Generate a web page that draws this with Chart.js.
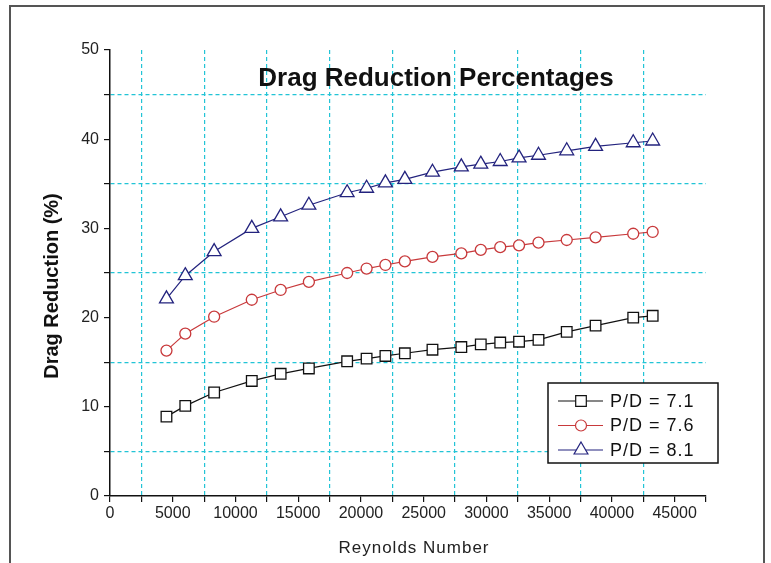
<!DOCTYPE html>
<html>
<head>
<meta charset="utf-8">
<title>Drag Reduction Percentages</title>
<script src="https://cdn.jsdelivr.net/npm/chart.js@4/dist/chart.umd.min.js"></script>
<style>
    html, body { margin: 0; padding: 0; background: #fff; }
    #wrap { position: relative; width: 771px; height: 563px; }
</style>
</head>
<body>
<div id="wrap"><canvas id="dragChart" width="771" height="563"></canvas></div>
<script>
// Reynolds numbers shared by all three pitch ratios
const reynolds = [4500, 6000, 8300, 11300, 13600, 15850, 18900, 20450, 21950, 23500,
                  25700, 28000, 29550, 31100, 32600, 34150, 36400, 38700, 41700, 43250];

// Drag reduction (%) for each P/D
const dr71 = [8.9, 10.1, 11.6, 12.9, 13.7, 14.3, 15.1, 15.4, 15.7, 16.0,
              16.4, 16.7, 17.0, 17.2, 17.3, 17.5, 18.4, 19.1, 20.0, 20.2];
const dr76 = [16.3, 18.2, 20.1, 22.0, 23.1, 24.0, 25.0, 25.5, 25.9, 26.3,
              26.8, 27.2, 27.6, 27.9, 28.1, 28.4, 28.7, 29.0, 29.4, 29.6];
const dr81 = [22.1, 24.7, 27.4, 30.0, 31.3, 32.6, 34.0, 34.5, 35.1, 35.5,
              36.3, 36.9, 37.2, 37.5, 37.9, 38.2, 38.7, 39.2, 39.6, 39.8];

const seriesLabels = ['P/D = 7.1', 'P/D = 7.6', 'P/D = 8.1'];

const FONT = "'Liberation Sans', Arial, sans-serif";
const GRID_CYAN = '#22c4d6';

class DragChart {
    constructor() {
        this.chart = null;
    }

    toPoints(values) {
        return values.map((v, i) => ({ x: reynolds[i], y: v }));
    }

    buildDatasets() {
        const styles = [
            { color: '#111111', pointStyle: 'rect', radius: 7.5 },
            { color: '#c8393b', pointStyle: 'circle', radius: 5.5 },
            { color: '#23237e', pointStyle: 'triangle', radius: 8 }
        ];
        return [dr71, dr76, dr81].map((vals, i) => ({
            label: seriesLabels[i],
            data: this.toPoints(vals),
            borderColor: styles[i].color,
            borderWidth: 1.2,
            backgroundColor: '#ffffff',
            pointStyle: styles[i].pointStyle,
            pointRadius: styles[i].radius,
            pointBorderWidth: 1.3,
            pointBorderColor: styles[i].color,
            pointBackgroundColor: '#ffffff',
            tension: 0,
            order: 2 - i
        }));
    }

    // frame, titles and boxed legend drawn on the canvas
    decorations() {
        return {
            id: 'decorations',
            beforeDraw(chart) {
                const ctx = chart.ctx;
                ctx.save();
                ctx.fillStyle = '#fff';
                ctx.fillRect(0, 0, chart.width, chart.height);
                ctx.strokeStyle = '#555';
                ctx.lineWidth = 2;
                ctx.strokeRect(10, 6, 754, 640);
                ctx.restore();
            },
            afterDraw(chart) {
                const ctx = chart.ctx;
                ctx.save();
                ctx.fillStyle = '#111';
                ctx.font = 'bold 26px ' + FONT;
                ctx.textAlign = 'center';
                ctx.textBaseline = 'middle';
                ctx.fillText('Drag Reduction Percentages', 436, 79);

                // axis titles
                ctx.font = '17px ' + FONT;
                ctx.fillStyle = '#222';
                ctx.letterSpacing = '1px';
                ctx.fillText('Reynolds Number', 414, 548);
                ctx.letterSpacing = '0px';

                ctx.save();
                ctx.translate(52, 286);
                ctx.rotate(-Math.PI / 2);
                ctx.font = 'bold 20px ' + FONT;
                ctx.fillStyle = '#111';
                ctx.fillText('Drag Reduction (%)', 0, 0);
                ctx.restore();

                // legend box
                const bx = 548, by = 383, bw = 170, bh = 80;
                ctx.fillStyle = '#fff';
                ctx.fillRect(bx, by, bw, bh);
                ctx.strokeStyle = '#111';
                ctx.lineWidth = 1.5;
                ctx.strokeRect(bx, by, bw, bh);

                ctx.font = '18px ' + FONT;
                ctx.textAlign = 'left';
                ctx.letterSpacing = '1px';
                chart.data.datasets.forEach((ds, i) => {
                    const y = by + 18 + i * 24.5;
                    ctx.strokeStyle = ds.borderColor;
                    ctx.lineWidth = 1.2;
                    ctx.beginPath();
                    ctx.moveTo(bx + 10, y);
                    ctx.lineTo(bx + 55, y);
                    ctx.stroke();
                    ctx.fillStyle = '#fff';
                    Chart.helpers.drawPoint(ctx, {
                        pointStyle: ds.pointStyle,
                        radius: ds.pointRadius,
                        rotation: 0,
                        borderWidth: 1.3
                    }, bx + 33, y);
                    ctx.fillStyle = '#111';
                    ctx.fillText(ds.label, bx + 62, y + 1);
                });
                ctx.restore();
            }
        };
    }

    init() {
        const ctx = document.getElementById('dragChart').getContext('2d');
        this.chart = new Chart(ctx, {
            type: 'line',
            data: { datasets: this.buildDatasets() },
            options: {
                responsive: false,
                animation: false,
                layout: { padding: { top: 50, right: 65, left: 0, bottom: 0 } },
                plugins: {
                    legend: { display: false },
                    tooltip: { enabled: false }
                },
                scales: {
                    x: {
                        type: 'linear',
                        min: 0,
                        max: 47500,
                        afterFit: (s) => { s.height = 67; },
                        ticks: {
                            stepSize: 2500,
                            autoSkip: false,
                            maxRotation: 0,
                            padding: 2,
                            color: '#222',
                            font: { family: FONT, size: 16 },
                            callback: (v) => (v % 5000 === 0 ? String(v) : '')
                        },
                        grid: {
                            lineWidth: 1.2,
                            tickLength: 6,
                            tickColor: '#111',
                            tickWidth: 1.2,
                            tickBorderDash: [],
                            color: (c) => {
                                const v = c.tick ? c.tick.value : 0;
                                return (v % 5000 !== 0 && v < 47500) ? GRID_CYAN : 'rgba(0,0,0,0)';
                            }
                        },
                        border: { display: true, color: '#111', width: 1.5, dash: [4, 3] }
                    },
                    y: {
                        min: 0,
                        max: 50,
                        afterFit: (s) => { s.width = 110; },
                        ticks: {
                            stepSize: 5,
                            autoSkip: false,
                            padding: 5,
                            color: '#222',
                            font: { family: FONT, size: 16 },
                            callback: (v) => (v % 10 === 0 ? String(v) : '')
                        },
                        grid: {
                            lineWidth: 1.2,
                            tickLength: 6,
                            tickColor: '#111',
                            tickWidth: 1.2,
                            tickBorderDash: [],
                            color: (c) => {
                                const v = c.tick ? c.tick.value : 0;
                                return v % 10 !== 0 ? GRID_CYAN : 'rgba(0,0,0,0)';
                            }
                        },
                        border: { display: true, color: '#111', width: 1.5, dash: [4, 3] }
                    }
                }
            },
            plugins: [this.decorations()]
        });
    }
}

new DragChart().init();
</script>
</body>
</html>
